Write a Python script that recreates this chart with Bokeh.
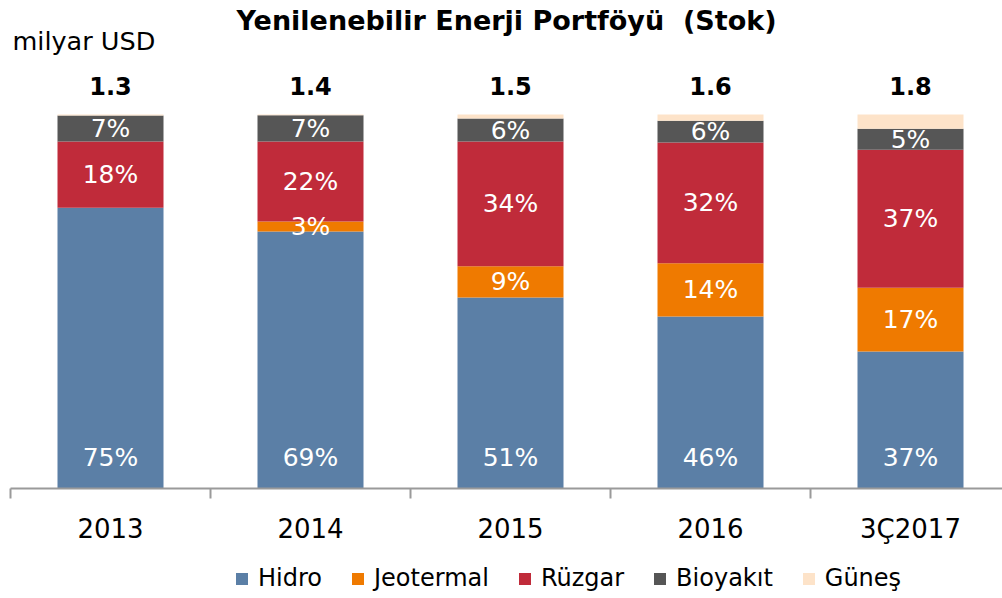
from bokeh.plotting import figure
from bokeh.layouts import column
from bokeh.models import ColumnDataSource, Range1d, FixedTicker, LinearAxis, Legend, LegendItem
from bokeh.core.properties import value
from bokeh.embed import file_html
from bokeh.resources import INLINE

# ---- data ----
categories = ["2013", "2014", "2015", "2016", "3Ç2017"]
totals = ["1.3", "1.4", "1.5", "1.6", "1.8"]
series = ["Hidro", "Jeotermal", "Rüzgar", "Bioyakıt", "Güneş"]
hidro = [75.1, 68.7, 51.1, 46.0, 36.6]
jeotermal = [0.0, 2.7, 8.3, 14.2, 17.1]
ruzgar = [17.7, 21.4, 33.4, 32.3, 36.9]
bioyakit = [6.9, 7.0, 6.1, 5.8, 5.6]
gunes = [0.3, 0.2, 1.1, 1.7, 3.8]
hidro_lbl = ["75%", "69%", "51%", "46%", "37%"]
jeotermal_lbl = ["", "3%", "9%", "14%", "17%"]
ruzgar_lbl = ["18%", "22%", "34%", "32%", "37%"]
bioyakit_lbl = ["7%", "7%", "6%", "6%", "5%"]

colors = ["#5B7FA6", "#EF7A00", "#C02B3A", "#565656", "#FDE3C9"]
FONT = "DejaVu Sans"

xs = list(range(len(categories)))
src = ColumnDataSource(dict(x=xs, Hidro=hidro, Jeotermal=jeotermal, Rüzgar=ruzgar,
                            Bioyakıt=bioyakit, Güneş=gunes))

x_start = -0.5
x_end = x_start + 992 / 200.0
y_end = 488 / 3.74
p = figure(width=1002, height=560, output_backend="svg", toolbar_location=None,
           x_range=Range1d(x_start, x_end), y_range=Range1d(0, y_end),
           x_axis_type=None, y_axis_type=None, min_border_left=10, min_border_right=0,
           min_border_top=0, min_border_bottom=72)
p.outline_line_color = None
p.xgrid.visible = False
p.ygrid.visible = False

p.vbar_stack(series, x="x", width=0.53, source=src, color=colors, line_color=None)

# x axis with boundary ticks
axis = LinearAxis(ticker=FixedTicker(ticks=xs, minor_ticks=[i - 0.5 for i in range(len(xs) + 1)]))
axis.major_label_overrides = {i: c for i, c in enumerate(categories)}
axis.major_tick_line_color = None
axis.major_tick_out = 0
axis.major_tick_in = 0
axis.minor_tick_out = 10
axis.minor_tick_in = 0
axis.minor_tick_line_color = "#9a9a9a"
axis.minor_tick_line_width = 2
axis.axis_line_color = "#9a9a9a"
axis.axis_line_width = 2
axis.major_label_text_font = FONT
axis.major_label_text_font_size = "26px"
axis.major_label_text_color = "#000000"
axis.major_label_standoff = 15
p.add_layout(axis, "below")

# segment labels
def centers(lower, seg):
    return [l + s / 2.0 for l, s in zip(lower, seg)]

base0 = [0.0] * len(xs)
base1 = [a + b for a, b in zip(base0, hidro)]
base2 = [a + b for a, b in zip(base1, jeotermal)]
base3 = [a + b for a, b in zip(base2, ruzgar)]

lx, ly, lt = [], [], []
for i in xs:
    lx.append(i); ly.append(8.3); lt.append(hidro_lbl[i])
for lower, seg, lbl in [(base1, jeotermal, jeotermal_lbl), (base2, ruzgar, ruzgar_lbl), (base3, bioyakit, bioyakit_lbl)]:
    cy = centers(lower, seg)
    for i in xs:
        if lbl[i]:
            lx.append(i); ly.append(cy[i]); lt.append(lbl[i])
p.text(x=lx, y=ly, text=lt, text_color="white", text_font=value(FONT), text_font_size="25px",
       text_align="center", text_baseline="middle")

# totals
p.text(x=xs, y=[107.5] * len(xs), text=totals, text_color="black", text_font=value(FONT),
       text_font_size="24px", text_font_style="bold", text_align="center", text_baseline="middle")

# unit label and title
p.text(x=[x_start + 0.01], y=[119.7], text=["milyar USD"], text_color="black", text_font=value(FONT),
       text_font_size="25.5px", text_align="left", text_baseline="middle")
p.text(x=[(x_start + x_end) / 2], y=[125.1], text=["Yenilenebilir Enerji Portföyü \u00a0(Stok)"],
       text_color="black", text_font=value(FONT), text_font_size="27px", text_font_style="bold",
       text_align="center", text_baseline="middle")

# legend strip (separate figure below the chart; its bars lie far outside its visible ranges)
lg = figure(width=1002, height=38, output_backend="svg", toolbar_location=None,
            x_range=Range1d(1000, 1001), y_range=Range1d(1000, 1001),
            x_axis_type=None, y_axis_type=None, min_border=0)
lg.outline_line_color = None
lg.xgrid.visible = False
lg.ygrid.visible = False
lg_renderers = lg.vbar_stack(series, x="x", width=0.53, source=src, color=colors, line_color=None)
legend = Legend(items=[LegendItem(label=value(n), renderers=[r]) for n, r in zip(series, lg_renderers)],
                orientation="horizontal", location=(224, 6), padding=0, margin=0, spacing=28,
                glyph_width=15, glyph_height=15, label_standoff=9,
                label_text_font=FONT, label_text_font_size="24px", label_text_color="black",
                border_line_color=None, background_fill_alpha=0)
lg.add_layout(legend, "center")

layout = column(p, lg, spacing=0)
open("out.html", "w").write(file_html(layout, INLINE))
